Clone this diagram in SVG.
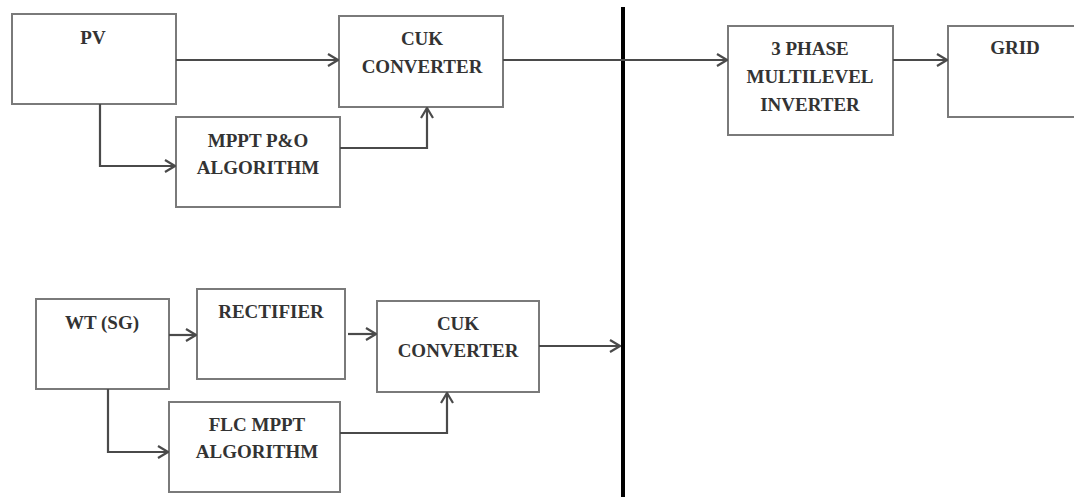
<svg xmlns="http://www.w3.org/2000/svg" width="1074" height="497" viewBox="0 0 1074 497">
<style>
.box{fill:#fff;stroke:#7a7a7a;stroke-width:2}
.lbl{font-family:"Liberation Serif","Times New Roman",serif;font-weight:bold;font-size:19px;fill:#333;text-anchor:middle}
.con{fill:none;stroke:#4a4a4a;stroke-width:2.2}
</style>
<defs>
<marker id="arr" viewBox="0 0 12 14" refX="11" refY="7" markerWidth="12" markerHeight="14" markerUnits="userSpaceOnUse" orient="auto">
<path d="M1,1 L11,7 L1,13" fill="none" stroke="#4a4a4a" stroke-width="2.2"/>
</marker>
</defs>
<rect width="1074" height="497" fill="#fff"/>
<g id="pv"><rect class="box" x="12" y="14" width="164" height="90"/><text class="lbl" x="93" y="44">PV</text></g>
<g id="cuk1"><rect class="box" x="339" y="16" width="164" height="91"/><text class="lbl" x="422" y="45">CUK</text><text class="lbl" x="422" y="73">CONVERTER</text></g>
<g id="mppt"><rect class="box" x="176" y="117" width="164" height="90"/><text class="lbl" x="258" y="147">MPPT P&amp;O</text><text class="lbl" x="258" y="174">ALGORITHM</text></g>
<g id="inverter"><rect class="box" x="728" y="26" width="165" height="109"/><text class="lbl" x="810" y="55">3 PHASE</text><text class="lbl" x="810" y="83">MULTILEVEL</text><text class="lbl" x="810" y="111">INVERTER</text></g>
<g id="grid"><rect class="box" x="948" y="26" width="140" height="91"/><text class="lbl" x="1015" y="54">GRID</text></g>
<g id="wt"><rect class="box" x="36" y="299" width="133" height="90"/><text class="lbl" x="102" y="329">WT (SG)</text></g>
<g id="rectifier"><rect class="box" x="197" y="289" width="148" height="90"/><text class="lbl" x="271" y="318">RECTIFIER</text></g>
<g id="cuk2"><rect class="box" x="377" y="301" width="162" height="91"/><text class="lbl" x="458" y="330">CUK</text><text class="lbl" x="458" y="357">CONVERTER</text></g>
<g id="flc"><rect class="box" x="169" y="402" width="171" height="90"/><text class="lbl" x="257" y="431">FLC MPPT</text><text class="lbl" x="257" y="458">ALGORITHM</text></g>
<g id="connectors">
<line x1="623" y1="7" x2="623" y2="497" stroke="#000" stroke-width="4"/>
<path class="con" d="M176,60 H338" marker-end="url(#arr)"/>
<path class="con" d="M100,104 V166 H175" marker-end="url(#arr)"/>
<path class="con" d="M340,148 H427 V108" marker-end="url(#arr)"/>
<path class="con" d="M503,60 H727" marker-end="url(#arr)"/>
<path class="con" d="M893,60 H947" marker-end="url(#arr)"/>
<path class="con" d="M169,335 H196" marker-end="url(#arr)"/>
<path class="con" d="M348,334 H376" marker-end="url(#arr)"/>
<path class="con" d="M539,346 H620" marker-end="url(#arr)"/>
<path class="con" d="M108,389 V452 H168" marker-end="url(#arr)"/>
<path class="con" d="M340,433 H447 V393" marker-end="url(#arr)"/>
</g>
</svg>
